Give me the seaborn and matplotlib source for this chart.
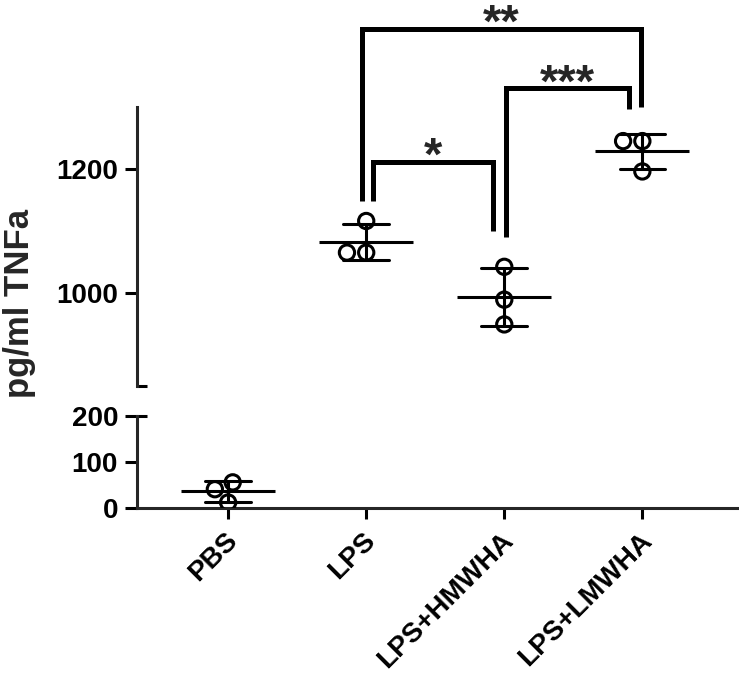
import matplotlib
matplotlib.use("Agg")
import matplotlib.pyplot as plt
import matplotlib.transforms as mtrans
import seaborn as sns
import pandas as pd

# data (pg/ml TNFa, 3 replicates per group)
groups = ["PBS", "LPS", "LPS+HMWHA", "LPS+LMWHA"]
pbs = [55, 40, 11]
lps = [1116, 1065, 1065]
hmwha = [1042, 989, 949]
lmwha = [1245, 1245, 1196]

# significance brackets: (left group, right group, label)
comparisons = [("LPS", "LPS+HMWHA", "*"),
               ("LPS+HMWHA", "LPS+LMWHA", "***"),
               ("LPS", "LPS+LMWHA", "**")]

df = pd.DataFrame({
    "group": [g for g, v in zip(groups, [pbs, lps, hmwha, lmwha]) for _ in v],
    "tnfa": pbs + lps + hmwha + lmwha,
})

sns.set_style("ticks")
plt.rcParams["font.family"] = ["Liberation Sans", "DejaVu Sans"]
plt.rcParams["font.weight"] = "bold"

fig = plt.figure(figsize=(7.39, 6.74), dpi=100)
ax_top = fig.add_axes([0.1854, 0.4277, 0.8146, 0.4135])
ax_bot = fig.add_axes([0.1854, 0.2470, 0.8146, 0.1358])

lw = 2.2
for ax in (ax_top, ax_bot):
    sns.swarmplot(data=df, x="group", y="tnfa", order=groups, ax=ax,
                  color="black", size=11, linewidth=lw, edgecolor="black")
    for coll in ax.collections:
        coll.set_facecolor("none")
    sns.pointplot(data=df, x="group", y="tnfa", order=groups, ax=ax,
                  errorbar="sd", capsize=0.33, color="black",
                  linestyle="none", marker="_", markersize=67,
                  markeredgewidth=lw, err_kws={"linewidth": lw})
    ax.set_xlim(-0.66, 3.70)
    ax.set_xlabel("")
    ax.set_ylabel("")
    for side in ("top", "right"):
        ax.spines[side].set_visible(False)
    ax.spines["left"].set_linewidth(lw)
    ax.spines["bottom"].set_linewidth(lw)
    ax.tick_params(axis="both", width=lw, length=8.6, labelsize=20,
                   color="black", labelcolor="black", pad=5)

ax_top.set_ylim(850, 1300)
ax_top.set_yticks([1000, 1200])
ax_top.spines["bottom"].set_visible(False)
ax_top.tick_params(axis="x", bottom=False, labelbottom=False)

ax_bot.set_ylim(0, 200)
ax_bot.set_yticks([0, 100, 200])
ax_bot.tick_params(axis="x", length=8, pad=13)
ax_bot.set_xticks(range(len(groups)))
ax_bot.set_xticklabels(groups, rotation=45, ha="right", va="center",
                       rotation_mode="anchor", fontweight="bold")
shift = mtrans.ScaledTranslation(4 / 72, 0, fig.dpi_scale_trans)
for lab in ax_bot.get_xticklabels():
    lab.set_transform(lab.get_transform() + shift)
for lab in ax_top.get_yticklabels() + ax_bot.get_yticklabels():
    lab.set_fontweight("bold")

# axis break marks
ax_top.plot([0, 0.017], [850, 850], color="black", lw=lw,
            transform=ax_top.get_yaxis_transform(), clip_on=False,
            solid_capstyle="butt")
ax_bot.plot([0, 0.017], [200, 200], color="black", lw=lw,
            transform=ax_bot.get_yaxis_transform(), clip_on=False,
            solid_capstyle="butt")

# brackets, drawn in data units of the top axes
pos = {g: i for i, g in enumerate(groups)}
tops = {"*": 1212, "***": 1330, "**": 1426}
leg_ends = {"*": (1149, 1100), "***": (1090, 1297), "**": (1149, 1300)}
x_shift = {"*": (0.05, -0.08), "***": (0.01, -0.10), "**": (-0.03, -0.01)}
for g1, g2, lab in comparisons:
    x1 = pos[g1] + x_shift[lab][0]
    x2 = pos[g2] + x_shift[lab][1]
    y1, y2 = leg_ends[lab]
    top = tops[lab]
    ax_top.plot([x1, x1, x2, x2], [y1, top, top, y2], color="black",
                lw=3.6, clip_on=False, solid_joinstyle="miter",
                solid_capstyle="butt")
    ax_top.text((x1 + x2) / 2, top - 13, lab, ha="center", va="baseline",
                fontsize=34, fontweight="bold", clip_on=False)

fig.text(20 / 739, 0.5497, "pg/ml TNFa", rotation=90, ha="center",
         va="center", fontsize=25, fontweight="bold")

fig.savefig("out.png", dpi=100)
